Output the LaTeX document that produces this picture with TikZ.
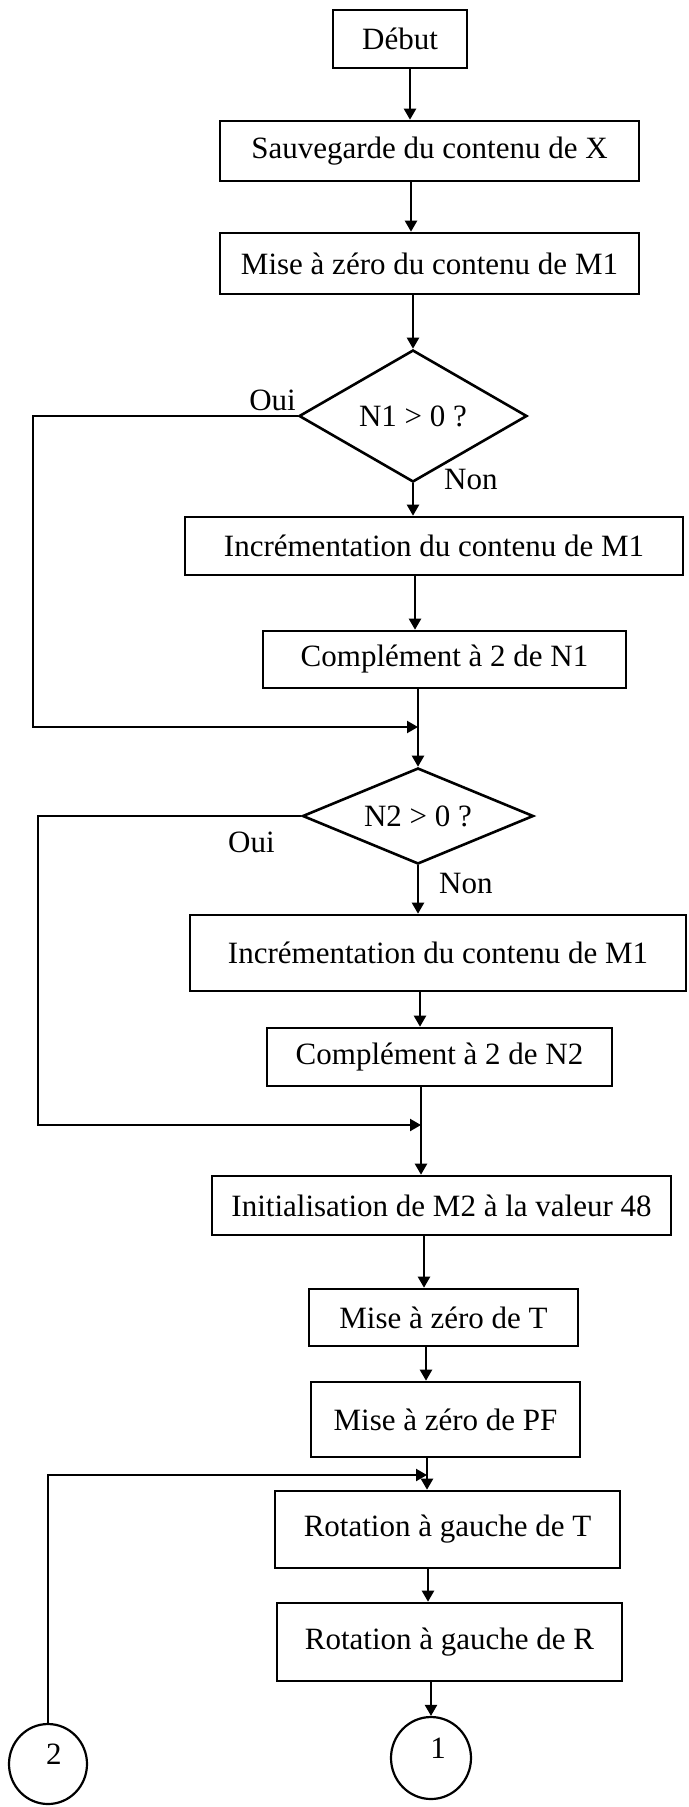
\documentclass[tikz,border=0pt]{standalone}
\usepackage{fontspec}
\setmainfont{Liberation Serif}
\usetikzlibrary{shapes.geometric,arrows.meta}

\tikzset{
  every node/.style={font=\fontsize{31}{36}\selectfont, inner sep=0pt},
  stepbox/.style={draw, line width=2.6pt, rectangle, align=center},
  testbox/.style={draw, line width=2.6pt, diamond, shape aspect=1.75},
  connector/.style={draw, line width=2.2pt, ellipse, text height=20pt, text depth=20pt},
  lbl/.style={},
  arr/.style={line width=2.2pt, -{Triangle[length=11pt,width=12pt]}}
}

\begin{document}
\begin{tikzpicture}[x=1pt, y=-1pt]
  \useasboundingbox (0,0) rectangle (688,1807);
  \fill[white] (0,0) rectangle (688,1807);

  % process steps
  \node[stepbox, minimum width=134pt, minimum height=58pt] (debut) at (400,39) {Début};
  \node[stepbox, minimum width=419pt, minimum height=60pt] (sauv) at (429.5,151) {Sauvegarde du contenu de X};
  \node[stepbox, minimum width=419pt, minimum height=61pt] (mise) at (429.5,263.5) {Mise à zéro du contenu de M1};
  \node[testbox, minimum width=228pt, minimum height=132pt] (d1) at (413,416) {N1 > 0 ?};
  \node[stepbox, minimum width=498pt, minimum height=58pt] (inc1) at (434,546) {Incrémentation du contenu de M1};
  \node[stepbox, minimum width=363pt, minimum height=57pt] (comp1) at (444.5,659.5) {Complément à 2 de N1};
  \node[testbox, minimum width=231pt, minimum height=96pt] (d2) at (418,816) {N2 > 0 ?};
  \node[stepbox, minimum width=496pt, minimum height=76pt] (inc2) at (438,953) {Incrémentation du contenu de M1};
  \node[stepbox, minimum width=345pt, minimum height=58pt] (comp2) at (439.5,1057) {Complément à 2 de N2};
  \node[stepbox, minimum width=459pt, minimum height=59pt] (init) at (441.5,1205.5) {Initialisation de M2 à la valeur 48};
  \node[stepbox, minimum width=269pt, minimum height=57pt] (miseT) at (443.5,1317.5) {Mise à zéro de T};
  \node[stepbox, minimum width=269pt, minimum height=75pt] (misePF) at (445.5,1419.5) {Mise à zéro de PF};
  \node[stepbox, minimum width=345pt, minimum height=77pt] (rotT) at (447.5,1529.5) {Rotation à gauche de T};
  \node[stepbox, minimum width=345pt, minimum height=78pt] (rotR) at (449.5,1642) {Rotation à gauche de R};

  % off-page connectors (digit set a little above and right of centre)
  \node[connector, minimum width=80pt, minimum height=82pt] (c1) at (431,1758) {\hspace*{14pt}1};
  \node[connector, minimum width=78pt, minimum height=80pt] (c2) at (48,1764) {\hspace*{12pt}2};

  % branch labels
  \node[lbl, anchor=base east] (oui1) at (296,410) {Oui};
  \node[lbl, anchor=base west] (non1) at (444,489) {Non};
  \node[lbl, anchor=base west] (oui2) at (228,852) {Oui};
  \node[lbl, anchor=base west] (non2) at (439,893) {Non};

  % junction points on the main line
  \coordinate (j1) at (418,727);
  \coordinate (j2) at (421,1125);
  \coordinate (j3) at (427,1475);

  % main flow
  \draw[arr] (debut.south -| 410,0) -- (sauv.north -| 410,0);
  \draw[arr] (sauv.south -| 411,0) -- (mise.north -| 411,0);
  \draw[arr] (mise.south -| d1.north) -- (d1.north);
  \draw[arr] (d1.south) -- (inc1.north -| d1.south);
  \draw[arr] (inc1.south -| 415,0) -- (comp1.north -| 415,0);
  \draw[arr] (comp1.south -| d2.north) -- (d2.north);
  \draw[arr] (d2.south) -- (inc2.north -| d2.south);
  \draw[arr] (inc2.south -| 420,0) -- (comp2.north -| 420,0);
  \draw[arr] (comp2.south -| j2) -- (init.north -| j2);
  \draw[arr] (init.south -| 424,0) -- (miseT.north -| 424,0);
  \draw[arr] (miseT.south -| 426,0) -- (misePF.north -| 426,0);
  \draw[arr] (misePF.south -| j3) -- (rotT.north -| j3);
  \draw[arr] (rotT.south -| 428,0) -- (rotR.north -| 428,0);
  \draw[arr] (rotR.south -| c1.north) -- (c1.north);

  % "Oui" branches and the return from connector 2
  \draw[arr] (d1.west) -- (d1.west -| 33,0) |- (j1);
  \draw[arr] (d2.west) -- (d2.west -| 38,0) |- (j2);
  \draw[arr] (c2.north) |- (j3);
\end{tikzpicture}
\end{document}
